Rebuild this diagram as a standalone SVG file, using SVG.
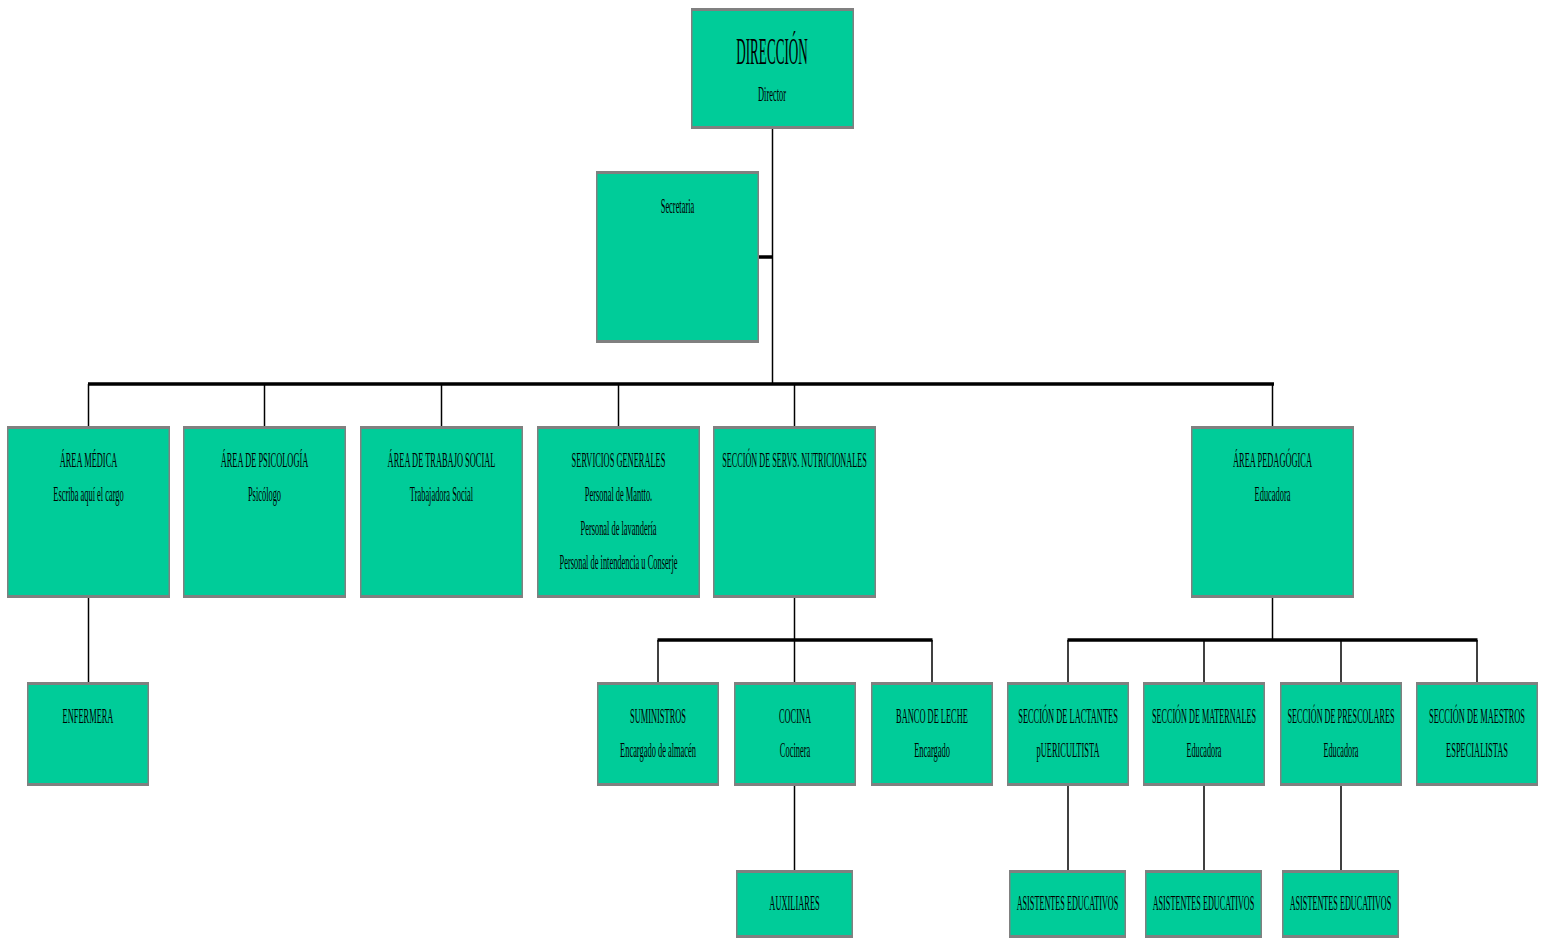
<svg xmlns="http://www.w3.org/2000/svg" width="1543" height="939" viewBox="0 0 1543 939">
<style>
.frame{fill:#808080}
.fill{fill:#00CC99}
.t{font-family:"Liberation Serif","Times New Roman",serif;font-size:20px;text-anchor:middle;fill:#000}
.big{font-size:37px}
.thin{stroke:#000;stroke-width:1.5;fill:none}
.bar{stroke:#000;stroke-width:3.5;fill:none}
</style>
<rect width="1543" height="939" fill="#fff"/>
<g id="connectors">
<line class="thin" x1="772.5" y1="129" x2="772.5" y2="384"/>
<line class="bar" x1="759" y1="257" x2="773" y2="257"/>
<line class="bar" x1="88" y1="384" x2="1274" y2="384"/>
<line class="thin" x1="88.5" y1="384" x2="88.5" y2="426"/>
<line class="thin" x1="264.5" y1="384" x2="264.5" y2="426"/>
<line class="thin" x1="441.5" y1="384" x2="441.5" y2="426"/>
<line class="thin" x1="618.5" y1="384" x2="618.5" y2="426"/>
<line class="thin" x1="794.5" y1="384" x2="794.5" y2="426"/>
<line class="thin" x1="1272.5" y1="384" x2="1272.5" y2="426"/>
<line class="thin" x1="88.5" y1="598" x2="88.5" y2="682"/>
<line class="thin" x1="794.5" y1="598" x2="794.5" y2="682"/>
<line class="bar" x1="657.5" y1="640" x2="932.5" y2="640"/>
<line class="thin" x1="658" y1="640" x2="658" y2="682"/>
<line class="thin" x1="932" y1="640" x2="932" y2="682"/>
<line class="thin" x1="1272.5" y1="598" x2="1272.5" y2="640"/>
<line class="bar" x1="1067.5" y1="640" x2="1477.5" y2="640"/>
<line class="thin" x1="1068" y1="640" x2="1068" y2="682"/>
<line class="thin" x1="1204" y1="640" x2="1204" y2="682"/>
<line class="thin" x1="1341" y1="640" x2="1341" y2="682"/>
<line class="thin" x1="1477" y1="640" x2="1477" y2="682"/>
<line class="thin" x1="794.5" y1="786" x2="794.5" y2="870"/>
<line class="thin" x1="1068" y1="786" x2="1068" y2="870"/>
<line class="thin" x1="1204" y1="786" x2="1204" y2="870"/>
<line class="thin" x1="1341" y1="786" x2="1341" y2="870"/>
</g>
<g id="direccion"><rect class="frame" x="691" y="8" width="163" height="121"/><rect class="fill" x="692.5" y="11" width="160" height="115"/>
<text class="t big" transform="translate(772,64) scale(0.355,1)">DIRECCIÓN</text>
<text class="t" transform="translate(772,101) scale(0.42,1)">Director</text></g>
<g id="secretaria"><rect class="frame" x="596" y="171" width="163" height="172"/><rect class="fill" x="597.5" y="174" width="160" height="166"/>
<text class="t" transform="translate(677.5,213) scale(0.42,1)">Secretaria</text></g>
<g id="area-medica"><rect class="frame" x="7" y="426" width="163" height="172"/><rect class="fill" x="8.5" y="429" width="160" height="166"/>
<text class="t" transform="translate(88.5,467) scale(0.42,1)">ÁREA MÉDICA<tspan x="0" dy="34">Escriba aquí el cargo</tspan></text></g>
<g id="area-psicologia"><rect class="frame" x="183" y="426" width="163" height="172"/><rect class="fill" x="184.5" y="429" width="160" height="166"/>
<text class="t" transform="translate(264.5,467) scale(0.42,1)">ÁREA DE PSICOLOGÍA<tspan x="0" dy="34">Psicólogo</tspan></text></g>
<g id="area-trabajo-social"><rect class="frame" x="360" y="426" width="163" height="172"/><rect class="fill" x="361.5" y="429" width="160" height="166"/>
<text class="t" transform="translate(441.5,467) scale(0.42,1)">ÁREA DE TRABAJO SOCIAL<tspan x="0" dy="34">Trabajadora Social</tspan></text></g>
<g id="servicios-generales"><rect class="frame" x="537" y="426" width="163" height="172"/><rect class="fill" x="538.5" y="429" width="160" height="166"/>
<text class="t" transform="translate(618.5,467) scale(0.42,1)">SERVICIOS GENERALES<tspan x="0" dy="34">Personal de Mantto.</tspan><tspan x="0" dy="34">Personal de lavandería</tspan><tspan x="0" dy="34">Personal de intendencia u Conserje</tspan></text></g>
<g id="nutricionales"><rect class="frame" x="713" y="426" width="163" height="172"/><rect class="fill" x="714.5" y="429" width="160" height="166"/>
<text class="t" transform="translate(794.5,467) scale(0.41,1)">SECCIÓN DE SERVS. NUTRICIONALES</text></g>
<g id="area-pedagogica"><rect class="frame" x="1191" y="426" width="163" height="172"/><rect class="fill" x="1192.5" y="429" width="160" height="166"/>
<text class="t" transform="translate(1272.5,467) scale(0.42,1)">ÁREA PEDAGÓGICA<tspan x="0" dy="34">Educadora</tspan></text></g>
<g id="enfermera"><rect class="frame" x="27" y="682" width="122" height="104"/><rect class="fill" x="28.5" y="685" width="119" height="98"/>
<text class="t" transform="translate(88,723) scale(0.42,1)">ENFERMERA</text></g>
<g id="suministros"><rect class="frame" x="597" y="682" width="122" height="104"/><rect class="fill" x="598.5" y="685" width="119" height="98"/>
<text class="t" transform="translate(658,723) scale(0.42,1)">SUMINISTROS<tspan x="0" dy="34">Encargado de almacén</tspan></text></g>
<g id="cocina"><rect class="frame" x="734" y="682" width="122" height="104"/><rect class="fill" x="735.5" y="685" width="119" height="98"/>
<text class="t" transform="translate(795,723) scale(0.42,1)">COCINA<tspan x="0" dy="34">Cocinera</tspan></text></g>
<g id="banco-leche"><rect class="frame" x="871" y="682" width="122" height="104"/><rect class="fill" x="872.5" y="685" width="119" height="98"/>
<text class="t" transform="translate(932,723) scale(0.42,1)">BANCO DE LECHE<tspan x="0" dy="34">Encargado</tspan></text></g>
<g id="lactantes"><rect class="frame" x="1007" y="682" width="122" height="104"/><rect class="fill" x="1008.5" y="685" width="119" height="98"/>
<text class="t" transform="translate(1068,723) scale(0.42,1)">SECCIÓN DE LACTANTES<tspan x="0" dy="34">pUERICULTISTA</tspan></text></g>
<g id="maternales"><rect class="frame" x="1143" y="682" width="122" height="104"/><rect class="fill" x="1144.5" y="685" width="119" height="98"/>
<text class="t" transform="translate(1204,723) scale(0.41,1)">SECCIÓN DE MATERNALES<tspan x="0" dy="34">Educadora</tspan></text></g>
<g id="prescolares"><rect class="frame" x="1280" y="682" width="122" height="104"/><rect class="fill" x="1281.5" y="685" width="119" height="98"/>
<text class="t" transform="translate(1341,723) scale(0.41,1)">SECCIÓN DE PRESCOLARES<tspan x="0" dy="34">Educadora</tspan></text></g>
<g id="maestros"><rect class="frame" x="1416" y="682" width="122" height="104"/><rect class="fill" x="1417.5" y="685" width="119" height="98"/>
<text class="t" transform="translate(1477,723) scale(0.42,1)">SECCIÓN DE MAESTROS<tspan x="0" dy="34">ESPECIALISTAS</tspan></text></g>
<g id="auxiliares"><rect class="frame" x="736" y="870" width="117" height="68"/><rect class="fill" x="737.5" y="873" width="114" height="62"/>
<text class="t" transform="translate(794.5,910) scale(0.42,1)">AUXILIARES</text></g>
<g id="asistentes-1"><rect class="frame" x="1009" y="870" width="117" height="68"/><rect class="fill" x="1010.5" y="873" width="114" height="62"/>
<text class="t" transform="translate(1067.5,910) scale(0.41,1)">ASISTENTES EDUCATIVOS</text></g>
<g id="asistentes-2"><rect class="frame" x="1145" y="870" width="117" height="68"/><rect class="fill" x="1146.5" y="873" width="114" height="62"/>
<text class="t" transform="translate(1203.5,910) scale(0.41,1)">ASISTENTES EDUCATIVOS</text></g>
<g id="asistentes-3"><rect class="frame" x="1282" y="870" width="117" height="68"/><rect class="fill" x="1283.5" y="873" width="114" height="62"/>
<text class="t" transform="translate(1340.5,910) scale(0.41,1)">ASISTENTES EDUCATIVOS</text></g>
</svg>
